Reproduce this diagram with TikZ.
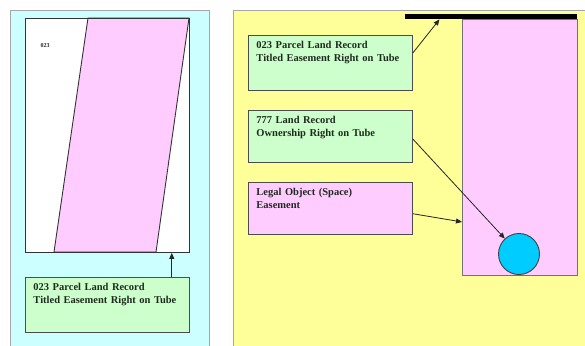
\documentclass[tikz,border=0pt]{standalone}
\usepackage{fontspec}
\setmainfont{Liberation Serif}
\usetikzlibrary{arrows.meta, calc}
\definecolor{panelCyan}{HTML}{CCFFFF}
\definecolor{panelYellow}{HTML}{FFFF99}
\definecolor{spacePink}{HTML}{FFCCFF}
\definecolor{recGreen}{HTML}{CCFFCC}
\definecolor{tubeBlue}{HTML}{00CCFF}
\definecolor{inkDark}{HTML}{1F2A1F}

\begin{document}
\begin{tikzpicture}[
  x=1pt, y=-1pt,
  every node/.style={font=\bfseries\fontsize{10.5}{13}\selectfont, text=inkDark},
  panel/.style={draw=black!35, line width=0.6pt, anchor=north west, inner sep=0pt},
  recbox/.style={draw=black!70, fill=recGreen, anchor=north west, align=left,
                 text width=148pt, inner xsep=8pt, inner ysep=4pt,
                 text height=9pt, text depth=38pt, line width=0.9pt},
  spacebox/.style={recbox, fill=spacePink},
  arr/.style={-{Triangle[length=6pt, width=5pt]}, line width=0.8pt, black!85},
]
  \useasboundingbox (0,0) rectangle (585,345);

  % left panel: parcel view
  \node[panel, fill=panelCyan, minimum width=199pt, minimum height=345pt] (leftpanel) at (10,10) {};
  \node[draw=black!80, fill=white, minimum width=164pt, minimum height=234pt,
        anchor=north west, inner sep=0pt, line width=0.9pt] (parcel) at (25,18) {};
  \filldraw[fill=spacePink, draw=black!80, line width=0.9pt]
    (88,18) -- (189,18) -- (156,252) -- (54,252) -- cycle;
  \draw[black!80, line width=0.9pt] (parcel.north west) rectangle (parcel.south east);
  \node[font=\bfseries\fontsize{6}{7}\selectfont] (lot) at (45,46) {023};

  \node[recbox] (lrec) at (25,277)
    {023 Parcel Land Record\\Titled Easement Right on Tube};
  \coordinate (lrectop) at ($(lrec.north west)!0.89!(lrec.north east)$);
  \draw[arr] (lrectop) -- (lrectop |- parcel.south);

  % right panel: tube section
  \node[panel, fill=panelYellow, minimum width=360pt, minimum height=345pt] (rightpanel) at (233,10) {};
  \node[draw=black!55, fill=spacePink, minimum width=115pt, minimum height=256pt,
        anchor=north west, inner sep=0pt, line width=0.9pt] (zone) at (462,19) {};
  \node[fill=black, minimum width=172pt, minimum height=5pt, inner sep=0pt,
        anchor=north west] (bar) at (405,14) {};
  \node[draw=black!75, fill=tubeBlue, circle, minimum size=41pt, inner sep=0pt,
        line width=0.9pt] (tube) at (519,254) {};

  \node[recbox] (title) at (248,35)
    {023 Parcel Land Record\\Titled Easement Right on Tube};
  \node[recbox, text depth=35pt] (own) at (248,110)
    {777 Land Record\\Ownership Right on Tube};
  \node[spacebox, text depth=35pt] (easement) at (248,182)
    {Legal Object (Space)\\Easement};

  \draw[arr] ($(title.north east)!0.32!(title.south east)$)
          -- ($(bar.south west)!0.2!(bar.south east)$);
  \draw[arr] ($(own.north east)!0.55!(own.south east)$) -- (tube);
  \draw[arr] ($(easement.north east)!0.6!(easement.south east)$)
          -- ($(zone.north west)!0.79!(zone.south west)$);
\end{tikzpicture}
\end{document}
